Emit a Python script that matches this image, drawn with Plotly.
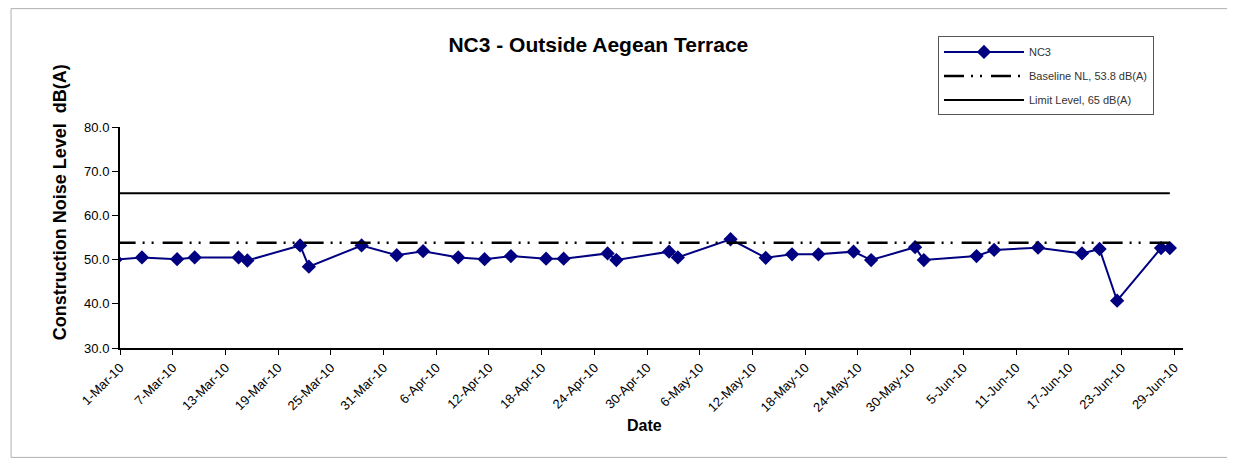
import pandas as pd
import plotly.graph_objects as go

# NC3 measured levels, dB(A)
NC3_DATES = [
    "2010-02-28", "2010-03-03", "2010-03-07", "2010-03-09", "2010-03-14",
    "2010-03-15", "2010-03-21", "2010-03-22", "2010-03-28", "2010-04-01",
    "2010-04-04", "2010-04-08", "2010-04-11", "2010-04-14", "2010-04-18",
    "2010-04-20", "2010-04-25", "2010-04-26", "2010-05-02", "2010-05-03",
    "2010-05-09", "2010-05-13", "2010-05-16", "2010-05-19", "2010-05-23",
    "2010-05-25", "2010-05-30", "2010-05-31", "2010-06-06", "2010-06-08",
    "2010-06-13", "2010-06-18", "2010-06-20", "2010-06-22", "2010-06-27",
    "2010-06-28",
]
NC3_VALUES = [
    50.0, 50.5, 50.1, 50.5, 50.5,
    49.8, 53.2, 48.4, 53.2, 51.0,
    51.9, 50.5, 50.1, 50.8, 50.2,
    50.2, 51.4, 49.9, 51.8, 50.5,
    54.6, 50.4, 51.2, 51.2, 51.8,
    49.9, 52.8, 49.9, 50.8, 52.2,
    52.7, 51.4, 52.4, 40.7, 52.6,
    52.6,
]

REF_DATES = ["2010-02-28", "2010-06-28"]
BASELINE_VALUES = [53.8, 53.8]
LIMIT_VALUES = [65, 65]

Y_TICKS = [30, 40, 50, 60, 70, 80]

FONT = "Arial, Liberation Sans, sans-serif"
NAVY = "#000080"


def _mid_day(dates):
    # Excel date axis draws each point in the middle of its day slot
    return pd.to_datetime(dates) + pd.Timedelta(hours=12)


fig = go.Figure()
fig.add_trace(
    go.Scatter(
        x=_mid_day(NC3_DATES),
        y=NC3_VALUES,
        name="NC3",
        mode="lines+markers",
        line=dict(color=NAVY, width=2),
        marker=dict(symbol="diamond", size=11, color=NAVY),
        legendgroup="a",
    )
)
fig.add_trace(
    go.Scatter(
        x=_mid_day(REF_DATES),
        y=BASELINE_VALUES,
        name="Baseline NL, 53.8 dB(A)",
        mode="lines",
        line=dict(color="black", width=2.5, dash="20px,7px,2px,7px,2px,9px"),
        legendgroup="b",
    )
)
fig.add_trace(
    go.Scatter(
        x=_mid_day(REF_DATES),
        y=LIMIT_VALUES,
        name="Limit Level, 65 dB(A)",
        mode="lines",
        line=dict(color="black", width=2),
        legendgroup="c",
    )
)

# the page body adds an 8px offset, so the figure is 8px smaller each way
fig.update_layout(
    width=1227,
    height=456,
    margin=dict(l=112, r=52, t=119, b=116),
    paper_bgcolor="white",
    plot_bgcolor="white",
    font=dict(family=FONT, size=13, color="black"),
    title=dict(
        text="<b>NC3 - Outside Aegean Terrace</b>",
        font=dict(size=21, color="black"),
        xref="paper",
        x=0.45,
        xanchor="center",
        y=0.919,
        yanchor="middle",
    ),
    showlegend=True,
    legend=dict(
        x=0.7695,
        y=1.41,
        xanchor="left",
        yanchor="top",
        bgcolor="white",
        bordercolor="#555555",
        borderwidth=1,
        font=dict(size=11, color="#333333"),
        traceorder="grouped",
        tracegroupgap=5,
        itemwidth=80,
    ),
    annotations=[
        dict(
            text="<b>Construction Noise Level  dB(A)</b>",
            textangle=-90,
            xref="paper",
            yref="paper",
            x=-0.0677,
            y=0.66,
            showarrow=False,
            font=dict(size=18, color="black"),
        ),
        dict(
            text="<b>Date</b>",
            xref="paper",
            yref="paper",
            x=0.493,
            y=-0.40,
            showarrow=False,
            font=dict(size=16, color="black"),
        ),
    ],
    shapes=[
        dict(
            type="rect",
            xref="paper",
            yref="paper",
            x0=-0.1025,
            x1=1.0442,
            y0=-0.495,
            y1=1.5357,
            line=dict(color="#b0b0b0", width=1),
        )
    ],
)

fig.update_xaxes(
    type="date",
    range=["2010-03-01", "2010-06-30"],
    tick0="2010-03-01",
    dtick=6 * 86400000,
    tickformat="%-d-%b-%y",
    tickangle=-45,
    ticks="outside",
    ticklen=5,
    tickcolor="black",
    showline=True,
    linecolor="black",
    linewidth=2,
    showgrid=False,
    zeroline=False,
    automargin=False,
    tickfont=dict(size=13),
)
fig.update_yaxes(
    range=[30, 80],
    tickvals=Y_TICKS,
    tickformat=".1f",
    ticks="outside",
    ticklen=6,
    tickcolor="black",
    showline=True,
    linecolor="black",
    linewidth=2,
    showgrid=False,
    zeroline=False,
    automargin=False,
    tickfont=dict(size=13),
)

fig.write_html("out.html")
